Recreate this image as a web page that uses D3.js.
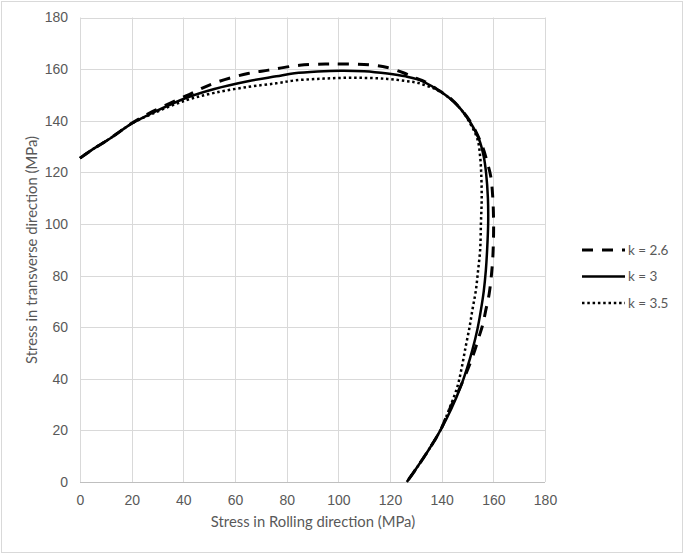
<!DOCTYPE html>
<html>
<head>
<meta charset="utf-8">
<script src="https://cdn.jsdelivr.net/npm/d3@7"></script>
<style>
  body { margin: 0; background: #fff; }
  svg { font-family: Lato, "Open Sans", sans-serif; }
  .tick text { fill: #595959; font-size: 14px; }
  .domain { display: none; }
</style>
</head>
<body>
<script>
// ticks for both axes (MPa)
var xTicks = [0, 20, 40, 60, 80, 100, 120, 140, 160, 180];
var yTicks = [0, 20, 40, 60, 80, 100, 120, 140, 160, 180];

// series names
var seriesNames = ["k = 2.6", "k = 3", "k = 3.5"];

// yield locus points: [rolling, transverse]
var k26 = [[0,125.5],[5,129],[11,132.7],[20,139],[28,143.5],[41,149.6],[52,154.6],[65,158.3],[73,159.6],[85,161.5],[95,162],[101,162],[112,161.7],[119,160.6],[125.4,158.5],[130,156.5],[133.2,155.3],[138,152.3],[143,149],[147.4,144.5],[151.5,139],[155.8,130],[157.6,124],[159,118.4],[159.8,110],[160.1,100.3],[160,92],[159.6,84],[158.4,73],[157.1,66.7],[155.9,61],[154.5,56.4],[152.3,49.5],[150,43.4],[146.7,35.7],[143,28],[139.6,20.2],[135,12.5],[130.7,6],[126.5,0]];

var k3 = [[0,125.5],[5,129],[11,132.7],[20,138.9],[28,143],[41,148.8],[52,152.3],[65,155.3],[76,157.2],[83,158.4],[92,159.1],[101,159.4],[110,159.2],[119,158.3],[126,157.2],[131,155.9],[138,152.3],[143,148.8],[147.4,144.5],[151,139.5],[154.5,132.7],[156.3,126],[157.2,119.7],[157.9,110],[158,100.3],[157.6,90],[157.1,82],[156.3,74],[155.2,66.7],[153.8,59],[151.9,51.2],[149.8,44],[147.4,37],[143.8,28.5],[139.6,20.2],[135,12.5],[130.7,6],[126.5,0]];

var k35 = [[0,125.5],[5,129],[11,132.7],[20,138.9],[28,142.7],[41,147.9],[52,150.8],[65,153.1],[76,154.5],[83,155.6],[92,156.2],[101,156.6],[110,156.6],[119,156.2],[126,155.4],[131,154.6],[138,152],[143,148.8],[147.4,144.5],[151,139],[153.9,132.7],[154.9,126],[155.3,119.7],[155.5,110],[155.2,100.4],[154.9,90],[154.1,82],[153.2,74],[151.9,66.7],[150.7,59.5],[149.3,52.5],[147.8,44.5],[146.1,37],[143,28.5],[139.6,20.2],[135,12.5],[130.7,6],[126.5,0]];

var w = 685,
    h = 556;

var svg = d3.select("body")
            .append("svg")
            .attr("width", w)
            .attr("height", h);

// chart border
svg.append("rect")
   .attr("x", 1.5)
   .attr("y", 1.5)
   .attr("width", w - 4)
   .attr("height", h - 5)
   .attr("fill", "#fff")
   .attr("stroke", "#d9d9d9");

// scales
var xScale = d3.scaleLinear().domain([0, 180]).range([80, 545]);
var yScale = d3.scaleLinear().domain([0, 180]).range([482, 17.5]);

// gridlines
svg.append("g")
   .selectAll("line")
   .data(xTicks)
   .enter()
   .append("line")
   .attr("x1", function(d) { return Math.round(xScale(d)) + 0.5; })
   .attr("x2", function(d) { return Math.round(xScale(d)) + 0.5; })
   .attr("y1", yScale(0))
   .attr("y2", yScale(180))
   .attr("stroke", "#d9d9d9");

svg.append("g")
   .selectAll("line")
   .data(yTicks)
   .enter()
   .append("line")
   .attr("y1", function(d) { return Math.round(yScale(d)) + 0.5; })
   .attr("y2", function(d) { return Math.round(yScale(d)) + 0.5; })
   .attr("x1", xScale(0))
   .attr("x2", xScale(180))
   .attr("stroke", function(d) { return d === 0 ? "#bfbfbf" : "#d9d9d9"; });

// axes (labels only)
var xAxis = d3.axisBottom(xScale).tickValues(xTicks).tickSize(0).tickPadding(0);
var yAxis = d3.axisLeft(yScale).tickValues(yTicks).tickSize(0).tickPadding(0);

svg.append("g")
   .attr("transform", "translate(0," + 492 + ")")
   .call(xAxis)
   .selectAll("text")
   .attr("dy", "0.9em");

svg.append("g")
   .attr("transform", "translate(" + 68 + ",0)")
   .call(yAxis);

svg.selectAll(".tick text").attr("font-family", null);

// axis titles
svg.append("text")
   .attr("x", 313)
   .attr("y", 527)
   .attr("text-anchor", "middle")
   .attr("fill", "#595959")
   .style("font-size", "14.8px")
   .text("Stress in Rolling direction (MPa)");

svg.append("text")
   .attr("transform", "translate(37," + 250 + ") rotate(-90)")
   .attr("text-anchor", "middle")
   .attr("fill", "#595959")
   .style("font-size", "14.8px")
   .text("Stress in transverse direction (MPa)");

// lines
var styles = [
    {data: k26, width: 3, dash: "11,9"},
    {data: k3, width: 2.5, dash: null},
    {data: k35, width: 2.5, dash: "2.5,2.8"}
];

var line = d3.line()
             .x(function(d) { return xScale(d[0]); })
             .y(function(d) { return yScale(d[1]); })
             .curve(d3.curveCatmullRom);

svg.append("g")
   .selectAll("path")
   .data(styles)
   .enter()
   .append("path")
   .attr("d", function(d) { return line(d.data); })
   .attr("fill", "none")
   .attr("stroke", "#000")
   .attr("stroke-width", function(d) { return d.width; })
   .attr("stroke-dasharray", function(d) { return d.dash; });

// legend
var legend = svg.selectAll(".legend")
                .data(styles)
                .enter()
                .append("g")
                .attr("class", "legend")
                .attr("transform", function(d, i) {
                    return "translate(582," + (250 + i * 26.5) + ")";
                });

legend.append("line")
      .attr("x1", 0)
      .attr("x2", 43)
      .attr("stroke", "#000")
      .attr("stroke-width", function(d) { return d.width; })
      .attr("stroke-dasharray", function(d) { return d.dash; });

legend.append("text")
      .attr("x", 46)
      .attr("y", 4.5)
      .attr("fill", "#595959")
      .style("font-size", "13.5px")
      .text(function(d, i) { return seriesNames[i]; });
</script>
</body>
</html>
